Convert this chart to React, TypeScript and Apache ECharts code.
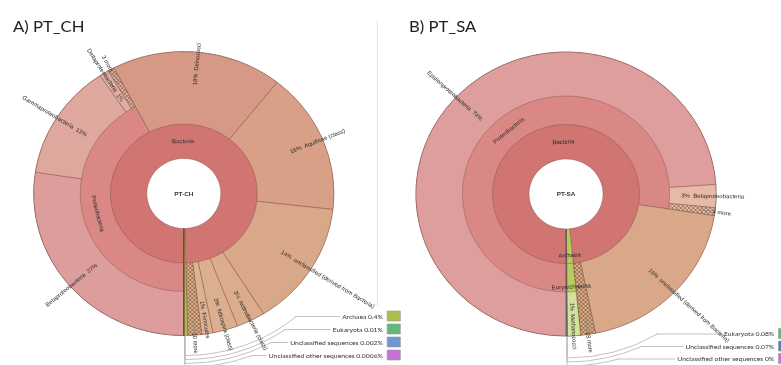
import React, { useEffect, useRef } from 'react';
import * as echarts from 'echarts';

// ---------- Sample PT_CH (share of reads, %) ----------
const chTitle = 'A) PT_CH';
const chRootName = 'PT-CH';
const chDomainNames = ['Bacteria', 'Archaea', 'Eukaryota', 'Unclassified sequences', 'Unclassified other sequences'];
const chDomainValues = [0, 0.4, 0.01, 0.002, 0.0006];
const chBacteriaNames = [
  'Proteobacteria',
  'Deinococci',
  'Aquificae (class)',
  'unclassified (derived from Bacteria)',
  'Actinobacteria (class)',
  'Nitrospira (class)',
  'Firmicutes',
  '10 more',
];
const chBacteriaValues = [0, 18.4, 16.1, 14.3, 3.1, 2.7, 1.2, 1.5];
const chProteoNames = ['Betaproteobacteria', 'Gammaproteobacteria', 'Deltaproteobacteria', '3 more'];
const chProteoValues = [27.4, 13.2, 1.0, 0.7];
const chKeyNames = ['Archaea', 'Eukaryota', 'Unclassified sequences', 'Unclassified other sequences'];

// ---------- Sample PT_SA (share of reads, %) ----------
const saTitle = 'B) PT_SA';
const saRootName = 'PT-SA';
const saDomainNames = ['Bacteria', 'Archaea', 'Eukaryota', 'Unclassified sequences', 'Unclassified other sequences'];
const saDomainValues = [0, 0, 0.08, 0.07, 0];
const saBacteriaNames = ['Proteobacteria', 'unclassified (derived from Bacteria)', '18 more'];
const saBacteriaValues = [0, 19.4, 1.6];
const saProteoNames = ['Epsilonproteobacteria', 'Betaproteobacteria', '4 more'];
const saProteoValues = [73.9, 2.6, 0.9];
const saArchaeaNames = ['Euryarchaeota'];
const saEuryNames = ['Methanococci'];
const saEuryValues = [1.4];
const saKeyNames = ['Eukaryota', 'Unclassified sequences', 'Unclassified other sequences'];

// ---------- geometry & styles ----------
// the figure is drawn on a slightly narrower canvas and widened by CSS
const STRETCH = 1.057;
const CANVAS_W = Math.round(781 / STRETCH);
const R_HOLE = 35;
const R_RING1 = 69.5;
const R_RING2 = 98;
const R_OUT = 142;
const LABEL_R = 109;
const CH_CENTER = [173.9, 193.5];
const SA_CENTER = [535.5, 194];

const LABEL_FONT = 'Liberation Sans, Arial, sans-serif';
const KEY_FONT = 'Lato, sans-serif';
const LABEL_COLOR = '#2a2a2a';
const BORDER = 'rgba(105, 62, 52, 0.55)';
const HATCH = 'rgba(120, 78, 50, 0.9)';
const LEADER = '#b4b4b4';

const chColors: Record<string, string> = {
  'PT-CH': '#ffffff',
  Bacteria: '#d07571',
  Archaea: '#a9c04a',
  Eukaryota: '#5fb97a',
  'Unclassified sequences': '#6f98d2',
  'Unclassified other sequences': '#c673d4',
  Proteobacteria: '#d98886',
  Betaproteobacteria: '#dd9d9c',
  Gammaproteobacteria: '#dfa89f',
  Deltaproteobacteria: '#e1ada2',
  '3 more': '#e4b4a6',
  Deinococci: '#d59986',
  'Aquificae (class)': '#d7a087',
  'unclassified (derived from Bacteria)': '#d9a888',
  'Actinobacteria (class)': '#dbad8c',
  'Nitrospira (class)': '#dcb08f',
  Firmicutes: '#ddb392',
  '10 more': '#ddb28f',
};

const saColors: Record<string, string> = {
  'PT-SA': '#ffffff',
  Bacteria: '#d07571',
  Archaea: '#b5c95c',
  Eukaryota: '#5fb97a',
  'Unclassified sequences': '#5b7fb8',
  'Unclassified other sequences': '#c673d4',
  Proteobacteria: '#d98886',
  Epsilonproteobacteria: '#de9e9d',
  Betaproteobacteria: '#e6baa5',
  '4 more': '#e9c3ad',
  'unclassified (derived from Bacteria)': '#d9a888',
  '18 more': '#dcb08d',
  Euryarchaeota: '#b8cc5f',
  Methanococci: '#d3e29b',
};

type TaxNode = { name: string; value?: number; children?: TaxNode[] };

const level = (names: string[], values: number[], nested: Record<string, TaxNode[]> = {}): TaxNode[] =>
  names.map((name, i) => (nested[name] ? { name, children: nested[name] } : { name, value: values[i] }));

const chTree: TaxNode = {
  name: chRootName,
  children: level(chDomainNames, chDomainValues, {
    Bacteria: level(chBacteriaNames, chBacteriaValues, {
      Proteobacteria: level(chProteoNames, chProteoValues),
    }),
  }),
};

const saTree: TaxNode = {
  name: saRootName,
  children: level(saDomainNames, saDomainValues, {
    Bacteria: level(saBacteriaNames, saBacteriaValues, {
      Proteobacteria: level(saProteoNames, saProteoValues),
    }),
    Archaea: level(saArchaeaNames, [], {
      Euryarchaeota: level(saEuryNames, saEuryValues),
    }),
  }),
};

const sum = (n: TaxNode): number =>
  n.children ? n.children.reduce((s, c) => s + sum(c), 0) : n.value || 0;

// every node is painted from its own inner radius out to the rim; children sit on top
const bandStart = [0, 0, R_HOLE, R_RING1, R_RING2];
const bandMid = [0, 0, (R_HOLE + R_OUT) / 2, (R_RING1 + R_OUT) / 2, (R_RING2 + R_OUT) / 2];
const ringMid = [0, 0, (R_HOLE + R_RING1) / 2, (R_RING1 + R_RING2) / 2, (R_RING2 + R_OUT) / 2];

const isMore = (name: string) => / more$/.test(name);

// cross-hatched tile used for the collapsed "N more" wedges
const hatchCache: Record<string, any> = {};
function hatchFill(base: string) {
  if (hatchCache[base]) return hatchCache[base];
  const size = 4;
  const c = document.createElement('canvas');
  c.width = size;
  c.height = size;
  const ctx = c.getContext('2d');
  if (!ctx) return base;
  ctx.fillStyle = base;
  ctx.fillRect(0, 0, size, size);
  ctx.strokeStyle = HATCH;
  ctx.lineWidth = 0.7;
  ctx.beginPath();
  ctx.moveTo(-1, -1);
  ctx.lineTo(size + 1, size + 1);
  ctx.moveTo(-1, size + 1);
  ctx.lineTo(size + 1, -1);
  ctx.stroke();
  const pattern = { image: c, repeat: 'repeat' };
  hatchCache[base] = pattern;
  return pattern;
}

function styleFor(name: string, colors: Record<string, string>) {
  const base = colors[name] || '#dddddd';
  return { color: isMore(name) ? hatchFill(base) : base };
}

const plainText = { color: LABEL_COLOR, textBorderWidth: 0, textBorderColor: 'transparent', textShadowBlur: 0 };

function labelFor(node: TaxNode, depth: number, mid: number, span: number, grand: number) {
  const name = node.name;
  if (depth === 1) {
    return { ...plainText, show: true, rotate: 0, fontWeight: 'bold', fontSize: 6, color: '#333', formatter: name };
  }
  if (node.children) {
    if (span < 0.01) return { show: false };
    // tangential label centred on its own ring
    const target = ringMid[depth] + (span < 0.05 ? 9 : 0);
    const shift = (bandMid[depth] - target) * 2;
    const upper = mid > 0.25 && mid < 0.75;
    return {
      ...plainText,
      show: true,
      rotate: 'tangential',
      align: 'center',
      padding: upper ? [shift, 0, 0, 0] : [0, 0, shift, 0],
      formatter: name,
    };
  }
  const leftSide = mid < 0.5;
  if (isMore(name)) {
    return {
      ...plainText,
      show: true,
      position: 'outside',
      distance: -16,
      rotate: 'radial',
      formatter: leftSide ? `{t|${name}} {d|}` : `{d|} {t|${name}}`,
    };
  }
  if (span * 360 < 2.5) return { show: false };
  const pct = Math.round((sum(node) / grand) * 100);
  return {
    ...plainText,
    show: true,
    rotate: 'radial',
    align: 'left',
    distance: LABEL_R - bandStart[depth],
    formatter: leftSide ? `${name}  ${pct}%` : `${pct}%  ${name}`,
  };
}

function toItem(node: TaxNode, depth: number, start: number, grand: number, colors: Record<string, string>): any {
  const span = sum(node) / grand;
  const mid = start + span / 2;
  const item: any = {
    name: node.name,
    itemStyle: styleFor(node.name, colors),
    label: labelFor(node, depth, mid, span, grand),
  };
  if (depth === 1) item.itemStyle = { color: colors[node.name], borderWidth: 0 };
  if (node.children) {
    let s = start;
    item.children = node.children.map((c) => {
      const child = toItem(c, depth + 1, s, grand, colors);
      s += sum(c) / grand;
      return child;
    });
  } else {
    item.value = node.value;
  }
  return item;
}

function sunburst(tree: TaxNode, colors: Record<string, string>, center: number[]) {
  const grand = sum(tree);
  return {
    type: 'sunburst',
    center,
    radius: [0, R_OUT],
    startAngle: -90,
    clockwise: true,
    sort: null,
    nodeClick: false,
    emphasis: { focus: 'none' },
    itemStyle: { borderColor: BORDER, borderWidth: 0.6 },
    label: {
      ...plainText,
      fontFamily: LABEL_FONT,
      fontSize: 5.7,
      rotate: 'radial',
      rich: {
        t: { fontFamily: LABEL_FONT, fontSize: 5.7, color: LABEL_COLOR, textBorderWidth: 0 },
        d: { width: 12, height: 0.7, backgroundColor: '#8a8a8a', verticalAlign: 'middle' },
      },
    },
    levels: [
      {},
      { r0: 0, r: R_HOLE },
      { r0: R_HOLE, r: R_OUT },
      { r0: R_RING1, r: R_OUT },
      { r0: R_RING2, r: R_OUT },
    ],
    data: [toItem(tree, 1, 0, grand, colors)],
  };
}

// key for slivers too thin to label: leader arcs round the rim, then a row of text and a swatch
function keyGraphics(
  names: string[],
  domainNames: string[],
  domainValues: number[],
  colors: Record<string, string>,
  center: number[],
  textRight: number,
  rowTop: number,
  rowStep: number,
  r0: number,
) {
  const [cx, cy] = center;
  const out: any[] = [];
  const texts: any[] = [];
  names.forEach((name, i) => {
    const v = domainValues[domainNames.indexOf(name)];
    const R = r0 + 4 * i;
    const y = rowTop + rowStep * i;
    const theta = Math.asin(Math.min(1, (y - cy) / R));
    const xEnd = cx + R * Math.cos(theta);
    out.push({
      type: 'line',
      shape: { x1: cx + 1, y1: cy + R_OUT, x2: cx + 1, y2: cy + R },
      style: { stroke: LEADER, lineWidth: 0.8 },
      silent: true,
    });
    out.push({
      type: 'arc',
      shape: { cx: cx + 1, cy, r: R, startAngle: Math.PI / 2, endAngle: theta, clockwise: false },
      style: { stroke: LEADER, fill: 'none', lineWidth: 0.8 },
      silent: true,
    });
    out.push({
      type: 'line',
      shape: { x1: xEnd, y1: y, x2: textRight - 4, y2: y },
      style: { stroke: LEADER, lineWidth: 0.8 },
      silent: true,
    });
    texts.push({
      type: 'text',
      x: textRight,
      y,
      style: {
        text: `${name} ${v}%`,
        fill: '#333',
        font: `6.4px ${KEY_FONT}`,
        align: 'right',
        verticalAlign: 'middle',
        backgroundColor: '#ffffff',
        padding: [1, 1, 1, 2],
      },
      silent: true,
    });
    texts.push({
      type: 'rect',
      shape: { x: textRight + 3, y: y - 5.5, width: 12.5, height: 10 },
      style: { fill: colors[name], stroke: '#9a9a9a', lineWidth: 0.6 },
      silent: true,
    });
  });
  return [...out, ...texts];
}

const option: any = {
  animation: false,
  backgroundColor: '#ffffff',
  series: [sunburst(chTree, chColors, CH_CENTER), sunburst(saTree, saColors, SA_CENTER)],
  graphic: [
    {
      type: 'line',
      shape: { x1: 357, y1: 21, x2: 357, y2: 306 },
      style: { stroke: '#e4e4e4', lineWidth: 1 },
      silent: true,
    },
    {
      type: 'text',
      x: 12.3,
      y: 25.5,
      style: { text: chTitle, fill: '#222', font: `15.8px ${KEY_FONT}`, verticalAlign: 'middle' },
      silent: true,
    },
    {
      type: 'text',
      x: 387,
      y: 25.5,
      style: { text: saTitle, fill: '#222', font: `15.8px ${KEY_FONT}`, verticalAlign: 'middle' },
      silent: true,
    },
    ...keyGraphics(chKeyNames, chDomainNames, chDomainValues, chColors, CH_CENTER, 363.3, 316.5, 13, 162),
    ...keyGraphics(saKeyNames, saDomainNames, saDomainValues, saColors, SA_CENTER, 733.5, 334, 12.5, 164),
  ],
};

export default function App() {
  const ref = useRef<HTMLDivElement>(null);
  useEffect(() => {
    if (!ref.current) return;
    const chart = echarts.init(ref.current, undefined, { renderer: 'svg' });
    chart.setOption(option);
    return () => chart.dispose();
  }, []);
  return (
    <div style={{ position: 'absolute', left: 0, top: 0, width: 781, height: 365, overflow: 'hidden', background: '#ffffff' }}>
      <div
        ref={ref}
        style={{
          width: CANVAS_W,
          height: 365,
          transform: `scaleX(${STRETCH})`,
          transformOrigin: '0 0',
          willChange: 'transform',
          WebkitFontSmoothing: 'antialiased',
        }}
      />
    </div>
  );
}
